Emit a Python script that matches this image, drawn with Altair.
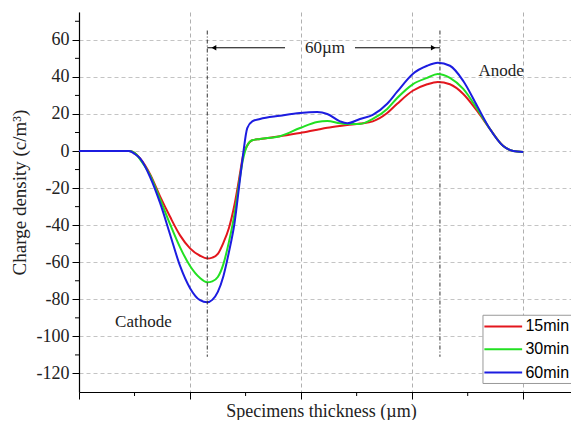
import altair as alt
import pandas as pd

# ---- data ----
x_um = [0, 9, 10, 11, 12.8, 14.6, 16.4, 18.2, 20, 21.8, 23.1, 24, 25, 26, 27, 28, 29, 29.5,
        30.3, 31.2, 32.6, 36.2, 39.8, 42.9, 44.7, 47, 48.3, 50.6, 52.9, 55.5, 57.3, 60.1,
        62.7, 64.6, 66.8, 69.2, 71.7, 74, 76.4, 78.2, 80]
red_15 = [0, 0, -1, -4, -12.5, -24.5, -35.5, -45.5, -52.5, -56.5, -58, -57.5, -55.5, -49.5,
          -41.5, -29, -12, -3, 3, 5.8, 6.5, 8, 9.7, 11.5, 12.5, 13.5, 14, 14.8, 16, 20.5, 25.5,
          32.5, 36, 37.3, 36, 30.8, 21.6, 11.9, 2.7, 0, -0.5]
green_30 = [0, 0, -1, -4.5, -13, -26, -39.5, -52, -62, -68.5, -70.8, -70.3, -68, -61, -49,
            -34, -14, -5, 3, 5.8, 6.5, 8, 12.4, 15.7, 16.2, 15, 14.6, 14.6, 17.3, 22.7, 28.6,
            36, 39.5, 41.6, 39.5, 33.5, 22.7, 11.9, 2.7, 0, -0.5]
blue_60 = [0, 0, -1.5, -4, -14, -28, -45, -62, -74, -80.5, -81.6, -80.3, -76, -67.5, -54.5,
           -39, -15, -3, 12.4, 16, 17.3, 19, 20.5, 21, 20, 16, 15, 17.3, 19.5, 25.5, 32, 41.6,
           46, 47.6, 46, 37.8, 24.3, 11.9, 2.7, 0, -0.5]
series_names = ["15min", "30min", "60min"]
series_colors = ["#e3161d", "#22e022", "#1c1ce0"]

y_major = [-120, -100, -80, -60, -40, -20, 0, 20, 40, 60]
y_minor = [70, 50, 30, 10, -10, -30, -50, -70, -90, -110]
x_major = [0, 20, 40, 60, 80]
x_minor = [10, 30, 50, 70]

marker_x = [23.1, 65]
arrow_segments_x = [23.1, 49.7]
arrow_segments_x2 = [37.1, 65]
arrow_head_x = [24.3, 63.8]
arrow_head_shape = ["triangle-left", "triangle-right"]
arrow_y = 55.7
notes_text = ["60µm", "Anode", "Cathode"]
notes_x = [44.3, 76, 11.6]
notes_y = [55.7, 43, -92]
legend_rows_y = [-94.6, -107, -119.5]

rows = []
for name, vals in zip(series_names, [red_15, green_30, blue_60]):
    for xv, yv in zip(x_um, vals):
        rows.append({"x": xv, "y": yv, "series": name})
df = pd.DataFrame(rows)

SERIF = "Liberation Serif"
SANS = "Liberation Sans"

xs = alt.Scale(domain=[0, 88.6], nice=False, zero=False)
ys = alt.Scale(domain=[-130, 75], nice=False, zero=False)
cs = alt.Scale(domain=series_names, range=series_colors)

x_axis = alt.Axis(
    values=x_major, labels=False, tickSize=7, tickColor="black", tickWidth=1,
    domainColor="black", domainWidth=1.2,
    grid=True, gridDash=[4, 3], gridColor="#b0b0b0", gridWidth=1,
    title="Specimens thickness (µm)", titleFont=SERIF, titleFontSize=18,
    titleFontWeight="normal", titleColor="#222", titleX=242, titleY=24,
    titleBaseline="alphabetic", titleAlign="center")
y_axis = alt.Axis(
    values=y_major, tickSize=7, tickColor="black", tickWidth=1,
    domainColor="black", domainWidth=1.2, labelFont=SERIF, labelFontSize=18,
    labelColor="#222", labelPadding=3,
    labelExpr="replace(datum.label, '\u2212', '-')",
    grid=True, gridDash=[4, 3], gridColor="#c4c4c4", gridWidth=1,
    title="Charge density (c/m³)", titleFont=SERIF, titleFontSize=19,
    titleFontWeight="normal", titleColor="#222", titleX=-60, titleY=180,
    titleBaseline="middle", titleAlign="center")


def X(field):
    return alt.X(field, scale=xs, axis=x_axis)


def Y(field):
    return alt.Y(field, scale=ys, axis=y_axis)


lines = alt.Chart(df).mark_line(strokeWidth=2, interpolate="monotone").encode(
    x=X("x:Q"), y=Y("y:Q"),
    color=alt.Color("series:N", scale=cs, legend=None),
)

ymin_df = pd.DataFrame({"y": y_minor})
y_minor_ticks = alt.Chart(ymin_df).mark_rule(color="black", strokeWidth=1).encode(
    y=Y("y:Q"), x=alt.value(-4), x2=alt.value(0))

xmin_df = pd.DataFrame({"x": x_minor})
x_minor_ticks = alt.Chart(xmin_df).mark_rule(color="black", strokeWidth=1).encode(
    x=X("x:Q"), y=alt.value(380), y2=alt.value(384))

mk_df = pd.DataFrame({"x": marker_x, "y": [65, 65], "y2": [-111, -111]})
markers = alt.Chart(mk_df).mark_rule(color="#333", strokeWidth=1, strokeDash=[4, 2, 1, 2]).encode(
    x=X("x:Q"), y=Y("y:Q"), y2="y2:Q")

seg_df = pd.DataFrame({"x": arrow_segments_x, "x2": arrow_segments_x2, "y": [arrow_y, arrow_y]})
segs = alt.Chart(seg_df).mark_rule(color="black", strokeWidth=1).encode(
    x=X("x:Q"), x2="x2:Q", y=Y("y:Q"))

head_df = pd.DataFrame({"x": arrow_head_x, "y": [arrow_y, arrow_y], "shape": arrow_head_shape})
heads = alt.Chart(head_df).mark_point(filled=True, color="black", size=30, opacity=1).encode(
    x=X("x:Q"), y=Y("y:Q"),
    shape=alt.Shape("shape:N", scale=None))

notes_df = pd.DataFrame({"x": notes_x, "y": notes_y, "t": notes_text})
notes = alt.Chart(notes_df).mark_text(font=SERIF, fontSize=17, color="#222",
                                      align="center", baseline="middle").encode(
    x=X("x:Q"), y=Y("y:Q"), text="t:N")

box_df = pd.DataFrame({"x": [72.75], "x2": [92], "y": [-88.6], "y2": [-125.4]})
box = alt.Chart(box_df).mark_rect(fill="white", stroke="#999", strokeWidth=1).encode(
    x=X("x:Q"), x2="x2:Q", y=Y("y:Q"), y2="y2:Q")

leg_df = pd.DataFrame({"series": series_names, "y": legend_rows_y,
                       "x": [73.0] * 3, "x2": [79.8] * 3, "tx": [80.4] * 3})
leg_lines = alt.Chart(leg_df).mark_rule(strokeWidth=2).encode(
    x=X("x:Q"), x2="x2:Q", y=Y("y:Q"),
    color=alt.Color("series:N", scale=cs, legend=None))
leg_text = alt.Chart(leg_df).mark_text(font=SANS, fontSize=16, color="black", align="left",
                                       baseline="middle").encode(
    x=X("tx:Q"), y=Y("y:Q"), text="series:N")

chart = alt.layer(
    lines, markers, y_minor_ticks, x_minor_ticks, segs, heads, notes, box, leg_lines, leg_text
).properties(
    width=492, height=380,
    background="white",
    autosize=alt.AutoSizeParams(type="none"),
    padding={"left": 71, "top": 4, "right": 0, "bottom": 28},
).configure_view(stroke=None)

chart.save("out.html", embed_options={"renderer": "svg", "actions": False})
